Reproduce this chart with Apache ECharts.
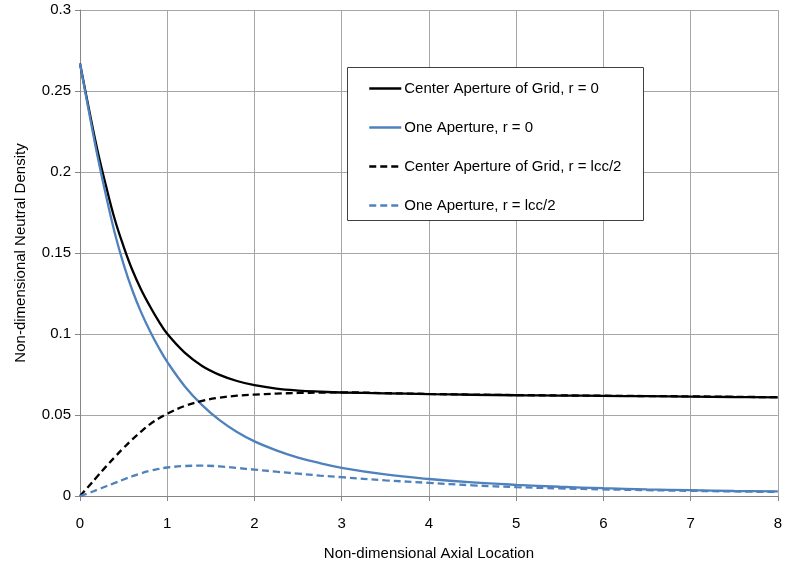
<!DOCTYPE html>
<html>
<head>
<meta charset="utf-8">
<script src="https://cdn.jsdelivr.net/npm/echarts@6/dist/echarts.min.js"></script>
<style>html,body{margin:0;padding:0;background:#fff;}#c{width:785px;height:566px;}</style>
</head>
<body>
<div id="c"></div>
<script>
var xs = [0, 0.1, 0.2, 0.3, 0.4, 0.5, 0.6, 0.7, 0.8, 0.9, 1, 1.2, 1.4, 1.6, 1.8, 2, 2.25, 2.5, 2.75, 3, 3.5, 4, 4.5, 5, 5.5, 6, 6.5, 7, 7.5, 8];
var centerR0 = [0.267, 0.2395, 0.2135, 0.191, 0.1705, 0.154, 0.1395, 0.1275, 0.1173, 0.1081, 0.1001, 0.0885, 0.0803, 0.0748, 0.0710, 0.0684, 0.0663, 0.0651, 0.0644, 0.0639, 0.0634, 0.0629, 0.0625, 0.0622, 0.0620, 0.0618, 0.0616, 0.0614, 0.0611, 0.0609];
var oneR0 = [0.267, 0.238, 0.210, 0.185, 0.162, 0.143, 0.127, 0.1135, 0.102, 0.0918, 0.0828, 0.0678, 0.0561, 0.0468, 0.0395, 0.0337, 0.0282, 0.0237, 0.0203, 0.0174, 0.0133, 0.0105, 0.0084, 0.0069, 0.0057, 0.0048, 0.0041, 0.0036, 0.0031, 0.0028];
var centerRh = [0, 0.006, 0.0122, 0.0183, 0.0241, 0.0297, 0.0350, 0.0398, 0.0442, 0.0478, 0.0508, 0.0556, 0.0587, 0.0607, 0.0619, 0.0626, 0.0632, 0.0636, 0.0638, 0.0640, 0.0635, 0.0630, 0.0626, 0.0623, 0.0621, 0.0619, 0.0617, 0.0615, 0.0612, 0.0610];
var oneRh = [0, 0.0018, 0.0039, 0.006, 0.0081, 0.0102, 0.0122, 0.0140, 0.0155, 0.0167, 0.0176, 0.0185, 0.0187, 0.0183, 0.0173, 0.0163, 0.0150, 0.0138, 0.0126, 0.0116, 0.0097, 0.0081, 0.0066, 0.0055, 0.0047, 0.0041, 0.0036, 0.0032, 0.0028, 0.0025];
var seriesNames = ['Center Aperture of Grid, r = 0', 'One Aperture, r = 0', 'Center Aperture of Grid, r = lcc/2', 'One Aperture, r = lcc/2'];
var xTitle = 'Non-dimensional Axial Location';
var yTitle = 'Non-dimensional Neutral Density';

function pairs(ys){ return xs.map(function(x,i){ return [x, ys[i]]; }); }
var FONT = 'Liberation Sans';
var FS = 15;
var chart = echarts.init(document.getElementById('c'), null, {renderer:'canvas'});
function mk(name, ys, color, type){
  return {name:name, type:'line', data:pairs(ys), smooth:0.4, showSymbol:false, symbol:'none', symbolSize:0,
    lineStyle:{color:color, width:2.3, type:type}, itemStyle:{color:color}, z:2, animation:false};
}
chart.setOption({
  animation:false,
  grid:{left:80, right:4, top:10, bottom:68, containLabel:false},
  xAxis:{type:'value', min:0, max:8, interval:1, name:xTitle, nameLocation:'middle', nameGap:50,
    nameTextStyle:{fontFamily:FONT, fontSize:FS, color:'#000'},
    axisLine:{show:true, onZero:false, lineStyle:{color:'#868686', width:1}},
    axisTick:{show:true, length:5, lineStyle:{color:'#868686'}},
    axisLabel:{fontFamily:FONT, fontSize:FS, color:'#000', margin:20},
    splitLine:{show:true, lineStyle:{color:'#a6a6a6', width:1}}},
  yAxis:{type:'value', min:0, max:0.3, interval:0.05, name:yTitle, nameLocation:'middle', nameGap:52,
    nameTextStyle:{fontFamily:FONT, fontSize:FS, color:'#000'},
    axisLine:{show:true, onZero:false, lineStyle:{color:'#868686', width:1}},
    axisTick:{show:true, length:5, lineStyle:{color:'#868686'}},
    axisLabel:{fontFamily:FONT, fontSize:FS, color:'#000', margin:9},
    splitLine:{show:true, lineStyle:{color:'#a6a6a6', width:1}}},
  graphic:[{type:'rect', z:3, shape:{x:347.5, y:67.5, width:296, height:153}, style:{fill:'#fff', stroke:'#404040', lineWidth:1}}],
  legend:{orient:'vertical', left:347, top:67, padding:[14,10,10,21], itemGap:24, itemWidth:32, itemHeight:14,
    itemStyle:{opacity:0}, lineStyle:{width:2.5},
    data:seriesNames, textStyle:{fontFamily:FONT, fontSize:FS, color:'#000', lineHeight:14, padding:[0,0,0,-2]}, z:5, selectedMode:false},
  series:[
    mk(seriesNames[0], centerR0, '#000000', 'solid'),
    mk(seriesNames[1], oneR0, '#4f81bd', 'solid'),
    mk(seriesNames[2], centerRh, '#000000', [7,4]),
    mk(seriesNames[3], oneRh, '#4f81bd', [7,4])
  ]
});
</script>
</body>
</html>
